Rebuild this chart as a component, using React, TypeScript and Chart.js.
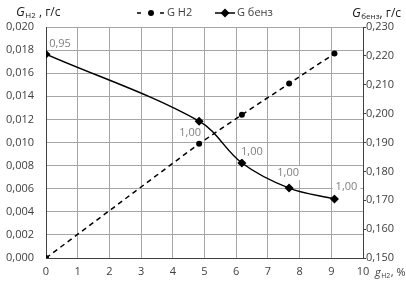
import React, { useEffect, useRef } from 'react';
import { Chart, registerables } from 'chart.js';

Chart.register(...registerables);

// ---- data ----
const xH2 = [0, 4.83, 6.18, 7.67, 9.1];
const gH2 = [0, 0.0099, 0.0124, 0.0151, 0.0177];
const xBenz = [0, 4.83, 6.18, 7.67, 9.1];
const gBenz = [0.2206, 0.1974, 0.1829, 0.1742, 0.1704];
const benzLabels = ['0,95', '1,00', '1,00', '1,00', '1,00'];
const seriesNames = ['G H2', 'G бенз'];

const FONT = '"Open Sans", "Noto Sans", sans-serif';
const fmt3 = (v: number) => Number(v).toFixed(3).replace('.', ',');

const labelOffsets = [
  [14, -10],
  [-9, 12],
  [10, -11],
  [-1, -15],
  [12, -12],
];

function drawSubTitle(ctx: CanvasRenderingContext2D, x: number, y: number, main: string, sub: string, rest: string) {
  ctx.save();
  ctx.fillStyle = '#222';
  ctx.textBaseline = 'alphabetic';
  ctx.textAlign = 'left';
  ctx.font = `italic 13px ${FONT}`;
  ctx.fillText(main, x, y);
  let cx = x + ctx.measureText(main).width + 0.5;
  ctx.font = `8px ${FONT}`;
  ctx.fillText(sub, cx, y + 2);
  cx += ctx.measureText(sub).width;
  ctx.font = `12px ${FONT}`;
  ctx.fillText(rest, cx, y);
  ctx.restore();
}

const decorPlugin = {
  id: 'decor',
  afterDatasetsDraw(chart: any) {
    const ctx: CanvasRenderingContext2D = chart.ctx;
    const meta = chart.getDatasetMeta(1);
    ctx.save();
    ctx.font = `11px ${FONT}`;
    ctx.textAlign = 'center';
    ctx.textBaseline = 'middle';
    meta.data.forEach((pt: any, i: number) => {
      const [dx, dy] = labelOffsets[i];
      const cx = pt.x + dx;
      const cy = pt.y + dy;
      const w = ctx.measureText(benzLabels[i]).width + 6;
      ctx.fillStyle = '#ffffff';
      if (i > 0) ctx.fillRect(cx - w / 2, cy - 7, w, 14);
      ctx.fillStyle = '#7f7f7f';
      ctx.fillText(benzLabels[i], cx, cy);
    });
    ctx.restore();
  },
  afterDraw(chart: any) {
    const ctx: CanvasRenderingContext2D = chart.ctx;
    const { chartArea } = chart;
    drawSubTitle(ctx, 16, 16, 'G', 'H2', ' , г/с');
    drawSubTitle(ctx, 352, 17, 'G', 'бенз', ', г/с');
    ctx.save();
    ctx.fillStyle = '#404040';
    ctx.font = `italic 11px ${FONT}`;
    ctx.textBaseline = 'alphabetic';
    ctx.fillText('g', chartArea.right + 12, 276);
    const gw = ctx.measureText('g').width;
    ctx.font = `7px ${FONT}`;
    ctx.fillText('H2', chartArea.right + 12 + gw + 0.5, 278);
    const sw = ctx.measureText('H2').width;
    ctx.font = `11px ${FONT}`;
    ctx.fillText(', %', chartArea.right + 12 + gw + sw + 1, 276);
    ctx.restore();

    // legend
    ctx.save();
    const ly = 13;
    ctx.strokeStyle = '#000';
    ctx.fillStyle = '#000';
    ctx.lineWidth = 1.5;
    ctx.beginPath();
    ctx.moveTo(137, ly);
    ctx.lineTo(141, ly);
    ctx.moveTo(160, ly);
    ctx.lineTo(164, ly);
    ctx.stroke();
    ctx.beginPath();
    ctx.arc(151, ly, 3, 0, Math.PI * 2);
    ctx.fill();
    ctx.font = `11px ${FONT}`;
    ctx.fillStyle = '#404040';
    ctx.textBaseline = 'middle';
    ctx.fillText(seriesNames[0], 167, ly);

    ctx.strokeStyle = '#000';
    ctx.beginPath();
    ctx.moveTo(215, ly);
    ctx.lineTo(235, ly);
    ctx.stroke();
    ctx.fillStyle = '#000';
    ctx.beginPath();
    ctx.moveTo(225, ly - 4.5);
    ctx.lineTo(229.5, ly);
    ctx.lineTo(225, ly + 4.5);
    ctx.lineTo(220.5, ly);
    ctx.closePath();
    ctx.fill();
    ctx.fillStyle = '#404040';
    ctx.fillText(seriesNames[1], 237, ly);
    ctx.restore();
  },
};

export default function App() {
  const ref = useRef<HTMLCanvasElement | null>(null);
  useEffect(() => {
    document.body.style.margin = '0';
    const canvas = ref.current;
    if (!canvas) return;
    const chart = new Chart(canvas, {
      type: 'line',
      data: {
        datasets: [
          {
            label: seriesNames[0],
            data: xH2.map((x, i) => ({ x, y: gH2[i] })),
            yAxisID: 'y',
            borderColor: '#000',
            backgroundColor: '#000',
            borderWidth: 1.5,
            borderDash: [5, 4],
            pointStyle: 'circle',
            pointRadius: 3,
            pointBorderWidth: 0,
            tension: 0,
          },
          {
            label: seriesNames[1],
            data: xBenz.map((x, i) => ({ x, y: gBenz[i] })),
            yAxisID: 'y2',
            borderColor: '#000',
            backgroundColor: '#000',
            borderWidth: 1.5,
            pointStyle: 'rectRot',
            pointRadius: 4.5,
            pointBorderWidth: 0,
            tension: 0.35,
          },
        ],
      },
      options: {
        responsive: false,
        animation: false,
        devicePixelRatio: 1,
        layout: { padding: { top: 27, left: 0, right: 0, bottom: 0 } },
        plugins: {
          legend: { display: false },
          tooltip: { enabled: false },
          title: { display: false },
        },
        scales: {
          x: {
            type: 'linear',
            min: 0,
            max: 10,
            afterFit: (s: any) => {
              s.height = 30;
            },
            ticks: {
              stepSize: 1,
              padding: 7,
              color: '#404040',
              font: { family: FONT, size: 11 },
            },
            grid: { color: '#a6a6a6', lineWidth: 1, drawTicks: false },
            border: { color: '#404040', width: 1 },
          },
          y: {
            position: 'left',
            min: 0,
            max: 0.02,
            afterFit: (s: any) => {
              s.width = 46;
            },
            ticks: {
              stepSize: 0.002,
              padding: 12,
              color: '#404040',
              font: { family: FONT, size: 11 },
              callback: (v: any) => fmt3(v),
            },
            grid: { color: '#a6a6a6', lineWidth: 1, drawTicks: false },
            border: { color: '#404040', width: 1 },
          },
          y2: {
            position: 'right',
            min: 0.15,
            max: 0.23,
            afterFit: (s: any) => {
              s.width = 43;
            },
            ticks: {
              stepSize: 0.01,
              padding: 0,
              color: '#404040',
              font: { family: FONT, size: 11 },
              callback: (v: any) => fmt3(v),
            },
            grid: { drawOnChartArea: false, drawTicks: true, tickLength: 3, color: '#404040' },
            border: { color: '#404040', width: 1 },
          },
        },
      },
      plugins: [decorPlugin],
    } as any);
    return () => chart.destroy();
  }, []);
  return (
    <div style={{ width: 406, height: 288, background: '#fff' }}>
      <canvas ref={ref} width={406} height={288} style={{ width: 406, height: 288, display: 'block' }} />
    </div>
  );
}
